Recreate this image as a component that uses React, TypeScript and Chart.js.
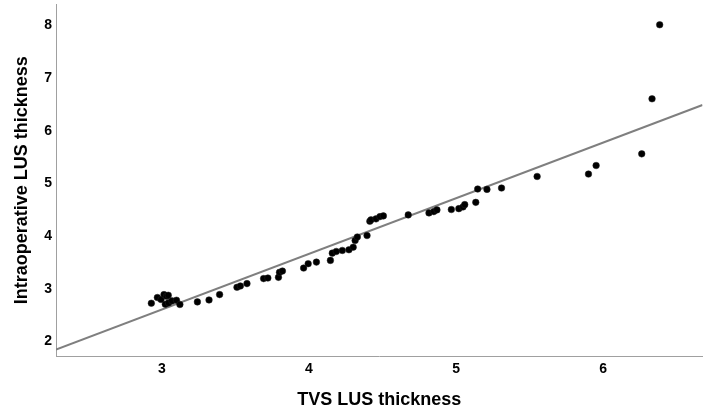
import React, { useEffect, useRef } from "react";
import { Chart, registerables } from "chart.js";

Chart.register(...registerables);

// TVS LUS thickness (x) vs Intraoperative LUS thickness (y)
const tvsThickness = [
  2.929, 2.970, 2.995, 3.015, 3.032, 3.044, 3.024, 3.046, 3.069, 3.100,
  3.123, 3.242, 3.321, 3.393, 3.511, 3.534, 3.579, 3.692, 3.721, 3.793,
  3.800, 3.820, 3.964, 3.995, 4.051, 4.146, 4.159, 4.186, 4.227, 4.272,
  4.301, 4.314, 4.329, 4.395, 4.414, 4.422, 4.456, 4.483, 4.506, 4.675,
  4.816, 4.849, 4.870, 4.968, 5.019, 5.047, 5.059, 5.134, 5.147, 5.210,
  5.309, 5.551, 5.900, 5.952, 6.262, 6.332, 6.384,
];
const intraopThickness = [
  2.727, 2.835, 2.797, 2.891, 2.859, 2.878, 2.708, 2.733, 2.771, 2.784,
  2.703, 2.752, 2.789, 2.891, 3.029, 3.054, 3.099, 3.194, 3.205, 3.218,
  3.313, 3.337, 3.394, 3.477, 3.507, 3.539, 3.677, 3.709, 3.728, 3.741,
  3.790, 3.917, 3.983, 4.011, 4.281, 4.308, 4.327, 4.370, 4.383, 4.402,
  4.440, 4.465, 4.497, 4.504, 4.521, 4.553, 4.597, 4.640, 4.893, 4.886,
  4.912, 5.131, 5.177, 5.339, 5.560, 6.604, 8.009,
];

// Fit line
const fitSlope = 1.056;
const fitIntercept = -0.562;

// Axis ranges
const xRange = [2.281, 6.675];
const yRange = [1.726, 8.393];
const xTicks = [3, 4, 5, 6];
const yTicks = [2, 3, 4, 5, 6, 7, 8];

const xTitle = "TVS LUS thickness";
const yTitle = "Intraoperative LUS thickness";

const FONT = "Arial, 'Liberation Sans', sans-serif";

export default function App() {
  const ref = useRef<HTMLCanvasElement | null>(null);

  useEffect(() => {
    document.body.style.margin = "0";
    const canvas = ref.current;
    if (!canvas) return;

    const points = tvsThickness.map((x, i) => ({ x, y: intraopThickness[i] }));
    const fitLine = xRange.map((x) => ({ x, y: fitIntercept + fitSlope * x }));

    const chart = new Chart(canvas, {
      type: "scatter",
      data: {
        datasets: [
          {
            label: "points",
            data: points,
            backgroundColor: "#000000",
            borderColor: "#222222",
            borderWidth: 0.5,
            pointRadius: 3.3,
            order: 1,
          },
          {
            label: "fit",
            type: "line",
            data: fitLine,
            borderColor: "#7f7f7f",
            borderWidth: 2,
            pointRadius: 0,
            fill: false,
            showLine: true,
            order: 2,
          } as any,
        ],
      },
      options: {
        responsive: false,
        animation: false,
        layout: { padding: { top: 3, left: 0, right: 0, bottom: 0 } },
        plugins: {
          legend: { display: false },
          tooltip: { enabled: false },
        },
        scales: {
          x: {
            type: "linear",
            min: xRange[0],
            max: xRange[1],
            afterBuildTicks: (s: any) => {
              s.ticks = xTicks.map((v) => ({ value: v }));
            },
            afterFit: (s: any) => {
              s.height = 55;
              s.paddingLeft = 0;
              s.paddingRight = 0;
            },
            grid: { drawOnChartArea: false, drawTicks: false, tickLength: 0 },
            border: { display: true, color: "#a0a0a0", width: 1 },
            ticks: {
              padding: 5,
              maxRotation: 0,
              color: "#000",
              font: { family: FONT, size: 14, weight: "bold" },
            },
            title: {
              display: true,
              text: xTitle,
              color: "#000",
              padding: { top: 0, bottom: 0 },
              font: { family: FONT, size: 18, weight: "bold" },
            },
          },
          y: {
            type: "linear",
            min: yRange[0],
            max: yRange[1],
            afterBuildTicks: (s: any) => {
              s.ticks = yTicks.map((v) => ({ value: v }));
            },
            afterFit: (s: any) => {
              s.width = 56;
              s.paddingTop = 0;
              s.paddingBottom = 0;
            },
            grid: { drawOnChartArea: false, drawTicks: false, tickLength: 0 },
            border: { display: true, color: "#a0a0a0", width: 1 },
            ticks: {
              padding: 4,
              color: "#000",
              font: { family: FONT, size: 14, weight: "bold" },
            },
            title: {
              display: true,
              text: yTitle,
              color: "#000",
              padding: { top: 11, bottom: 0 },
              font: { family: FONT, size: 18, weight: "bold" },
            },
          },
        },
      },
    });

    return () => chart.destroy();
  }, []);

  return (
    <div style={{ width: 707, height: 411 }}>
      <canvas ref={ref} width={707} height={411} style={{ display: "block" }} />
    </div>
  );
}
